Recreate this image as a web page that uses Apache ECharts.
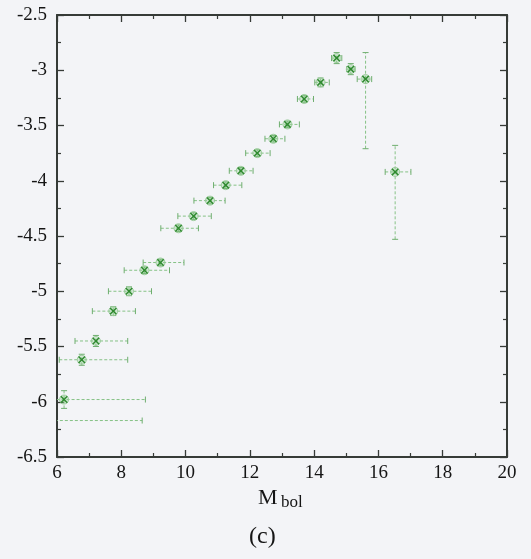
<!DOCTYPE html>
<html>
<head>
<meta charset="utf-8">
<script src="https://cdn.jsdelivr.net/npm/echarts@6/dist/echarts.min.js"></script>
<style>
html,body{margin:0;padding:0;background:#f3f4f7;}
#c{width:531px;height:559px;}
</style>
</head>
<body>
<div id="c"></div>
<script>
// Data
var mbol   = [5.70, 6.22, 6.77, 7.21, 7.75, 8.24, 8.72, 9.22, 9.78, 10.25, 10.76, 11.25, 11.72, 12.23, 12.73, 13.17, 13.69, 14.20, 14.70, 15.14, 15.60, 16.52];
var logVal = [-6.17, -5.98, -5.62, -5.45, -5.18, -5.00, -4.81, -4.74, -4.43, -4.32, -4.18, -4.04, -3.91, -3.75, -3.62, -3.49, -3.26, -3.11, -2.89, -2.99, -3.08, -3.92];
var xErrLo = [0.70, 0.70, 0.70, 0.65, 0.65, 0.64, 0.63, 0.54, 0.55, 0.49, 0.50, 0.38, 0.36, 0.36, 0.26, 0.25, 0.21, 0.18, 0.16, 0.13, 0.26, 0.31];
var xErrHi = [2.95, 2.53, 1.43, 0.99, 0.69, 0.70, 0.78, 0.73, 0.62, 0.55, 0.47, 0.50, 0.38, 0.40, 0.36, 0.37, 0.29, 0.27, 0.16, 0.13, 0.19, 0.49];
var yErrLo = [0.02, 0.08, 0.05, 0.05, 0.04, 0.04, 0.03, 0.03, 0.03, 0.03, 0.03, 0.03, 0.03, 0.03, 0.03, 0.03, 0.03, 0.04, 0.05, 0.05, 0.63, 0.61];
var yErrHi = [0.02, 0.08, 0.05, 0.05, 0.04, 0.04, 0.03, 0.03, 0.03, 0.03, 0.03, 0.03, 0.03, 0.03, 0.03, 0.03, 0.03, 0.04, 0.05, 0.05, 0.24, 0.24];
var xTitle = 'M';
var xTitleSub = 'bol';
var panelLabel = '(c)';

var data = mbol.map(function (m, i) {
  return [m, logVal[i], xErrLo[i], xErrHi[i], yErrLo[i], yErrHi[i]];
});

var FONT = "'Liberation Serif', 'Times New Roman', serif";
var axisCol = '#363b37';

function renderItem(params, api) {
  var x = api.value(0), y = api.value(1);
  var c = api.coord([x, y]);
  var l = api.coord([x - api.value(2), y]);
  var r = api.coord([x + api.value(3), y]);
  var b = api.coord([x, y - api.value(4)]);
  var t = api.coord([x, y + api.value(5)]);
  var dash = {stroke: '#86c286', lineWidth: 1, lineDash: [3, 2], fill: null};
  var capS = {stroke: '#6fae6f', lineWidth: 1, fill: null};
  var cap = 3;
  var ch = [
    {type: 'line', shape: {x1: l[0], y1: l[1], x2: r[0], y2: r[1]}, style: dash},
    {type: 'line', shape: {x1: l[0], y1: l[1] - cap, x2: l[0], y2: l[1] + cap}, style: capS},
    {type: 'line', shape: {x1: r[0], y1: r[1] - cap, x2: r[0], y2: r[1] + cap}, style: capS},
    {type: 'line', shape: {x1: b[0], y1: b[1], x2: t[0], y2: t[1]}, style: dash},
    {type: 'line', shape: {x1: b[0] - cap, y1: b[1], x2: b[0] + cap, y2: b[1]}, style: capS},
    {type: 'line', shape: {x1: t[0] - cap, y1: t[1], x2: t[0] + cap, y2: t[1]}, style: capS},
    {type: 'circle', shape: {cx: c[0], cy: c[1], r: 4.5}, style: {fill: 'rgba(140,205,140,0.3)', stroke: '#9ccc9c', lineWidth: 1}},
    {type: 'line', shape: {x1: c[0] - 3.2, y1: c[1] - 3.2, x2: c[0] + 3.2, y2: c[1] + 3.2}, style: {stroke: '#2f8a2f', lineWidth: 1.5}},
    {type: 'line', shape: {x1: c[0] - 3.2, y1: c[1] + 3.2, x2: c[0] + 3.2, y2: c[1] - 3.2}, style: {stroke: '#2f8a2f', lineWidth: 1.5}}
  ];
  return {type: 'group', children: ch};
}

function axisCommon(showLabel, pos) {
  return {
    position: pos,
    axisLine: {show: true, onZero: false, lineStyle: {color: axisCol, width: 2}},
    axisTick: {show: true, inside: true, length: 7, lineStyle: {color: axisCol, width: 1.3}},
    minorTick: {show: true, splitNumber: 2, length: 4, lineStyle: {color: axisCol, width: 1.2}},
    splitLine: {show: false},
    axisLabel: {show: showLabel, color: '#151515', fontFamily: FONT, fontSize: 19}
  };
}

var chart = echarts.init(document.getElementById('c'), null, {renderer: 'canvas'});
var xb = Object.assign({type: 'value', min: 6, max: 20, interval: 2, gridIndex: 0}, axisCommon(true, 'bottom'));
xb.axisLabel.margin = 7;
var xt = Object.assign({type: 'value', min: 6, max: 20, interval: 2, gridIndex: 0}, axisCommon(false, 'top'));
var yl = Object.assign({type: 'value', min: -6.5, max: -2.5, interval: 0.5, gridIndex: 0}, axisCommon(true, 'left'));
yl.axisLabel.margin = 10;
var yr = Object.assign({type: 'value', min: -6.5, max: -2.5, interval: 0.5, gridIndex: 0}, axisCommon(false, 'right'));

chart.setOption({
  backgroundColor: '#f3f4f7',
  animation: false,
  textStyle: {fontFamily: FONT},
  grid: {left: 57, top: 15, width: 450, height: 442},
  xAxis: [xb, xt],
  yAxis: [yl, yr],
  series: [{
    type: 'custom',
    xAxisIndex: 0,
    yAxisIndex: 0,
    clip: true,
    renderItem: renderItem,
    data: data
  }],
  graphic: [
    {type: 'text', left: 258, top: 487, style: {text: xTitle, font: "22px 'Liberation Serif'", fill: '#151515'}},
    {type: 'text', left: 281, top: 494, style: {text: xTitleSub, font: "17px 'Liberation Serif'", fill: '#151515'}},
    {type: 'text', left: 249, top: 525, style: {text: panelLabel, font: "24px 'Liberation Serif'", fill: '#151515'}}
  ]
});
</script>
</body>
</html>
